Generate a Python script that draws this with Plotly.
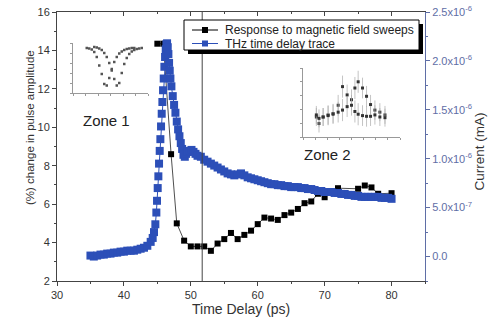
import plotly.graph_objects as go

# ---------------- data ----------------
# Black: response to magnetic field sweeps (% change, left axis)
resp_x = [45.0, 45.9, 47.05, 47.9, 49.0, 50.0, 51.0, 52.0, 53.0, 54.0, 55.0, 56.0, 57.0, 58.0,
          59.0, 60.0, 61.0, 62.0, 63.0, 64.0, 65.0, 66.0, 67.0, 68.0, 69.0, 70.0, 72.0, 75.0,
          76.0, 77.0, 78.0, 80.0]
resp_y = [14.35, 14.35, 8.6, 5.0, 4.1, 3.8, 3.8, 3.8, 3.57, 3.95, 4.18, 4.5, 4.18, 4.4,
          4.62, 4.96, 5.3, 5.25, 5.18, 5.43, 5.56, 5.75, 6.05, 6.14, 6.54, 6.36, 6.83, 6.8,
          6.97, 6.87, 6.54, 6.57]

# Blue: THz time delay trace (current, right axis, in units of 1e-6 mA)
thz_x = [35.0, 35.5, 36.0, 36.5, 37.0, 37.5, 38.0, 38.5, 39.0, 39.5, 40.0, 40.5, 41.0, 41.5,
         42.0, 42.5, 43.0, 43.5, 44.0, 44.3, 44.5, 44.7, 44.85, 44.95, 45.05, 45.15, 45.25,
         45.35, 45.45, 45.55, 45.65, 45.75, 45.85, 45.95, 46.05, 46.15, 46.25, 46.35, 46.45,
         46.55, 46.65, 46.75, 46.85, 46.95, 47.1, 47.3, 47.5, 47.7, 47.9, 48.1, 48.3, 48.5,
         48.7, 48.9, 49.1, 49.3, 49.5, 49.8, 50.1, 50.4, 50.7, 51.0, 51.5, 52.0, 52.5, 53.0,
         53.5, 54.0, 54.5, 55.0, 55.5, 56.0, 56.5, 57.0, 57.5, 58.0, 58.5, 59.0, 59.5, 60.0,
         60.5, 61.0, 61.5, 62.0, 62.5, 63.0, 63.5, 64.0, 64.5, 65.0, 65.5, 66.0, 66.5, 67.0,
         67.5, 68.0, 68.5, 69.0, 69.5, 70.0, 70.5, 71.0, 71.5, 72.0, 72.5, 73.0, 73.5, 74.0,
         74.5, 75.0, 75.5, 76.0, 76.5, 77.0, 77.5, 78.0, 78.5, 79.0, 79.5, 80.0]
thz_c = [0.01, 0.0, 0.01, 0.02, 0.02, 0.03, 0.03, 0.04, 0.04, 0.05, 0.05, 0.06, 0.06, 0.06,
         0.07, 0.08, 0.09, 0.11, 0.15, 0.19, 0.25, 0.33, 0.45, 0.57, 0.70, 0.82, 0.95,
         1.08, 1.20, 1.33, 1.46, 1.58, 1.70, 1.82, 1.94, 2.04, 2.12, 2.17, 2.18,
         2.14, 2.07, 1.98, 1.90, 1.82, 1.74, 1.64, 1.55, 1.47, 1.38, 1.30, 1.23, 1.16,
         1.10, 1.04, 1.02, 1.05, 1.07, 1.08, 1.09, 1.07, 1.05, 1.03, 1.02, 0.99, 0.97, 0.95,
         0.93, 0.91, 0.89, 0.87, 0.85, 0.84, 0.83, 0.84, 0.85, 0.83, 0.81, 0.80, 0.79, 0.78,
         0.77, 0.76, 0.75, 0.74, 0.74, 0.73, 0.73, 0.72, 0.72, 0.71, 0.71, 0.71, 0.70, 0.70,
         0.69, 0.69, 0.68, 0.67, 0.67, 0.66, 0.66, 0.66, 0.65, 0.65, 0.64, 0.64, 0.63, 0.63,
         0.62, 0.62, 0.61, 0.61, 0.61, 0.61, 0.61, 0.61, 0.60, 0.60, 0.60, 0.59]
thz_scale = 1e-6

# Axis tick labels
time_ticks = [30, 40, 50, 60, 70, 80]
cur_tickvals = [0.0, 0.5e-6, 1.0e-6, 1.5e-6, 2.0e-6, 2.5e-6]
cur_ticktext = ["0.0", "5.0x10<sup>-7</sup>", "1.0x10<sup>-6</sup>", "1.5x10<sup>-6</sup>",
                "2.0x10<sup>-6</sup>", "2.5x10<sup>-6</sup>"]
legend_labels = ["Response to magnetic field sweeps", "THz time delay trace"]

# Zone 1 inset (two dips)
z1a_x = [-1.9, -1.7, -1.5, -1.3, -1.1, -0.9, -0.7, -0.5, -0.3, -0.1, 0.1, 0.3, 0.5, 0.7, 0.9, 1.1, 1.3, 1.5, 1.7, 1.9]
z1a_y = [0.90, 0.89, 0.87, 0.82, 0.72, 0.55, 0.38, 0.18, 0.15, 0.30, 0.48, 0.62, 0.72, 0.79, 0.83, 0.86, 0.88, 0.89, 0.90, 0.90]
z1b_x = [-1.3, -1.1, -0.9, -0.7, -0.5, -0.3, -0.1, 0.1, 0.3, 0.5, 0.7, 0.9, 1.1, 1.3, 1.5, 1.7, 1.9, 2.1, 2.3, 2.5]
z1b_y = [0.92, 0.91, 0.89, 0.86, 0.80, 0.72, 0.60, 0.45, 0.28, 0.15, 0.20, 0.40, 0.58, 0.70, 0.78, 0.83, 0.86, 0.88, 0.89, 0.90]

# Zone 2 inset (two curves with error bars)
z2_x = [1.10, 1.32, 1.66, 2.07, 2.48, 2.90, 3.26, 3.64, 4.00, 4.28, 4.55, 4.91, 5.24, 5.57, 5.93, 6.34, 6.76]
z2a_y = [0.29, 0.195, 0.29, 0.32, 0.34, 0.46, 0.73, 0.61, 0.54, 0.71, 0.80, 0.71, 0.59, 0.47, 0.39, 0.36, 0.32]
z2b_y = [0.32, 0.27, 0.29, 0.31, 0.33, 0.36, 0.39, 0.44, 0.46, 0.37, 0.33, 0.31, 0.30, 0.30, 0.32, 0.29, 0.28]
z2_err = [0.13, 0.13, 0.13, 0.14, 0.14, 0.15, 0.16, 0.15, 0.15, 0.16, 0.16, 0.15, 0.15, 0.14, 0.14, 0.13, 0.13]

# ---------------- layout geometry (screen pixels) ----------------
W, H = 496, 328
X0, X1, Y0, Y1 = 57, 425, 12, 281          # plot area in pixels


def px(x):
    return (x - X0) / (X1 - X0)


def py(y):
    return 1 - (y - Y0) / (Y1 - Y0)


BLUE = "#2c4fb8"
AXBLUE = "#5f6ea6"
FONT = "Liberation Sans, Arial, sans-serif"

fig = go.Figure()

fig.add_trace(go.Scatter(
    x=resp_x, y=resp_y, mode="lines+markers", name=legend_labels[0],
    line=dict(color="#222222", width=0.8),
    marker=dict(symbol="square", size=6, color="black"),
    xaxis="x", yaxis="y"))

fig.add_trace(go.Scatter(
    x=thz_x, y=[v * thz_scale for v in thz_c], mode="lines+markers", name=legend_labels[1],
    line=dict(color=BLUE, width=1),
    marker=dict(symbol="square", size=8, color=BLUE, line=dict(width=0)),
    xaxis="x", yaxis="y2"))

# dummy trace for the top axis
fig.add_trace(go.Scatter(x=[], y=[], xaxis="x2", yaxis="y", showlegend=False))

# insets
for xs, ys in ((z1a_x, z1a_y), (z1b_x, z1b_y)):
    fig.add_trace(go.Scatter(x=xs, y=ys, mode="markers", showlegend=False,
                             marker=dict(symbol="square", size=2.5, color="#555555"),
                             xaxis="x4", yaxis="y4"))
for ys in (z2a_y, z2b_y):
    fig.add_trace(go.Scatter(x=z2_x, y=ys, mode="markers", showlegend=False,
                             marker=dict(symbol="square", size=3, color="#333333"),
                             error_y=dict(type="data", array=z2_err, color="#aaaaaa", thickness=0.7, width=0),
                             xaxis="x5", yaxis="y5"))

axis_common = dict(showgrid=False, zeroline=False, showline=True, linewidth=1, automargin=False,
                   ticklabeloverflow="allow")
inset_common = dict(showgrid=False, zeroline=False, showline=True, linecolor="#999999", linewidth=0.8,
                    ticks="outside", ticklen=2, tickcolor="#999999", showticklabels=False, automargin=False)

fig.update_layout(
    width=W, height=H,
    margin=dict(l=X0, r=W - X1, t=Y0, b=H - Y1),
    paper_bgcolor="white", plot_bgcolor="white",
    font=dict(family=FONT, size=11, color="#333333"),
    showlegend=False,
    xaxis=dict(**axis_common, range=[30, 85], linecolor="#444444",
               tickvals=time_ticks, ticks="outside", ticklen=4, tickcolor="#444444",
               minor=dict(dtick=5, tick0=0, ticks="outside", ticklen=2, tickcolor="#444444"),
               tickfont=dict(size=11, color="#333333")),
    xaxis2=dict(**axis_common, overlaying="x", side="top", anchor="y", range=[30, 85],
                linecolor="#444444", tickvals=time_ticks, ticks="inside", ticklen=4,
                tickcolor="#444444", showticklabels=False,
                minor=dict(dtick=5, tick0=0, ticks="inside", ticklen=2, tickcolor="#444444")),
    yaxis=dict(**axis_common, range=[2, 16], linecolor="#444444", dtick=2, ticks="outside",
               ticklen=4, tickcolor="#444444",
               minor=dict(dtick=1, ticks="outside", ticklen=2, tickcolor="#444444"),
               tickfont=dict(size=11, color="#333333")),
    yaxis2=dict(**axis_common, overlaying="y", side="right", anchor="x",
                range=[-0.25e-6, 2.5e-6], linecolor=AXBLUE,
                tickvals=cur_tickvals, ticktext=cur_ticktext, ticks="outside", ticklen=4, tickcolor=AXBLUE,
                minor=dict(dtick=0.25e-6, tick0=0, ticks="outside", ticklen=2, tickcolor=AXBLUE),
                tickfont=dict(size=11, color=AXBLUE)),
    xaxis4=dict(**inset_common, domain=[px(73), px(148)], anchor="y4", range=[-3, 3], dtick=1),
    yaxis4=dict(**inset_common, domain=[py(93), py(43)], anchor="x4", range=[0, 1], dtick=0.2),
    xaxis5=dict(**inset_common, domain=[px(303), px(400)], anchor="y5", range=[0, 8], dtick=1),
    yaxis5=dict(**inset_common, domain=[py(137), py(68)], anchor="x5", range=[0, 1], dtick=0.2),
)

# axis titles
fig.add_annotation(x=px(241), y=py(319), xref="paper", yref="paper", text="Time Delay (ps)",
                   showarrow=False, font=dict(size=14, color="#333333"))
fig.add_annotation(x=px(22), y=py(128), xref="paper", yref="paper", text="(%) change in pulse amplitude",
                   showarrow=False, textangle=-90, font=dict(size=11.5, color="#333333"))
fig.add_annotation(x=px(488), y=py(152), xref="paper", yref="paper", text="Current (mA)",
                   showarrow=False, textangle=-90, font=dict(size=13.5, color="#333333"))

# vertical marker line
fig.add_shape(type="line", xref="x", yref="paper", x0=51.7, x1=51.7, y0=0, y1=1,
              line=dict(color="#444444", width=1))

# legend (box with drop shadow)
fig.add_shape(type="rect", xref="paper", yref="paper", x0=px(188), x1=px(423), y0=py(54), y1=py(24),
              fillcolor="black", line=dict(width=0), layer="above")
fig.add_shape(type="rect", xref="paper", yref="paper", x0=px(184), x1=px(419), y0=py(50), y1=py(20),
              fillcolor="white", line=dict(color="black", width=1), layer="above")
for row_y, col in ((30, "black"), (43.5, BLUE)):
    fig.add_shape(type="line", xref="paper", yref="paper", x0=px(192), x1=px(218), y0=py(row_y), y1=py(row_y),
                  line=dict(color=col, width=1), layer="above")
    fig.add_shape(type="rect", xref="paper", yref="paper", x0=px(202), x1=px(208),
                  y0=py(row_y + 3), y1=py(row_y - 3), fillcolor=col, line=dict(width=0), layer="above")
for row_y, label in zip((30, 43.5), legend_labels):
    fig.add_annotation(x=px(223), y=py(row_y), xref="paper", yref="paper", text=label,
                       showarrow=False, xanchor="left", yanchor="middle",
                       font=dict(size=12, color="#222222"))

fig.add_annotation(x=37.45, y=10.34, xref="x", yref="y", text="Zone 1", showarrow=False,
                   font=dict(size=15, color="#222222"))
fig.add_annotation(x=70.4, y=8.57, xref="x", yref="y", text="Zone 2", showarrow=False,
                   font=dict(size=15, color="#222222"))

# the page body's default 8px margin would shift the figure; remove it
fig.write_html("out.html", config={"displayModeBar": False},
               post_script="document.body.style.margin='0px';")
